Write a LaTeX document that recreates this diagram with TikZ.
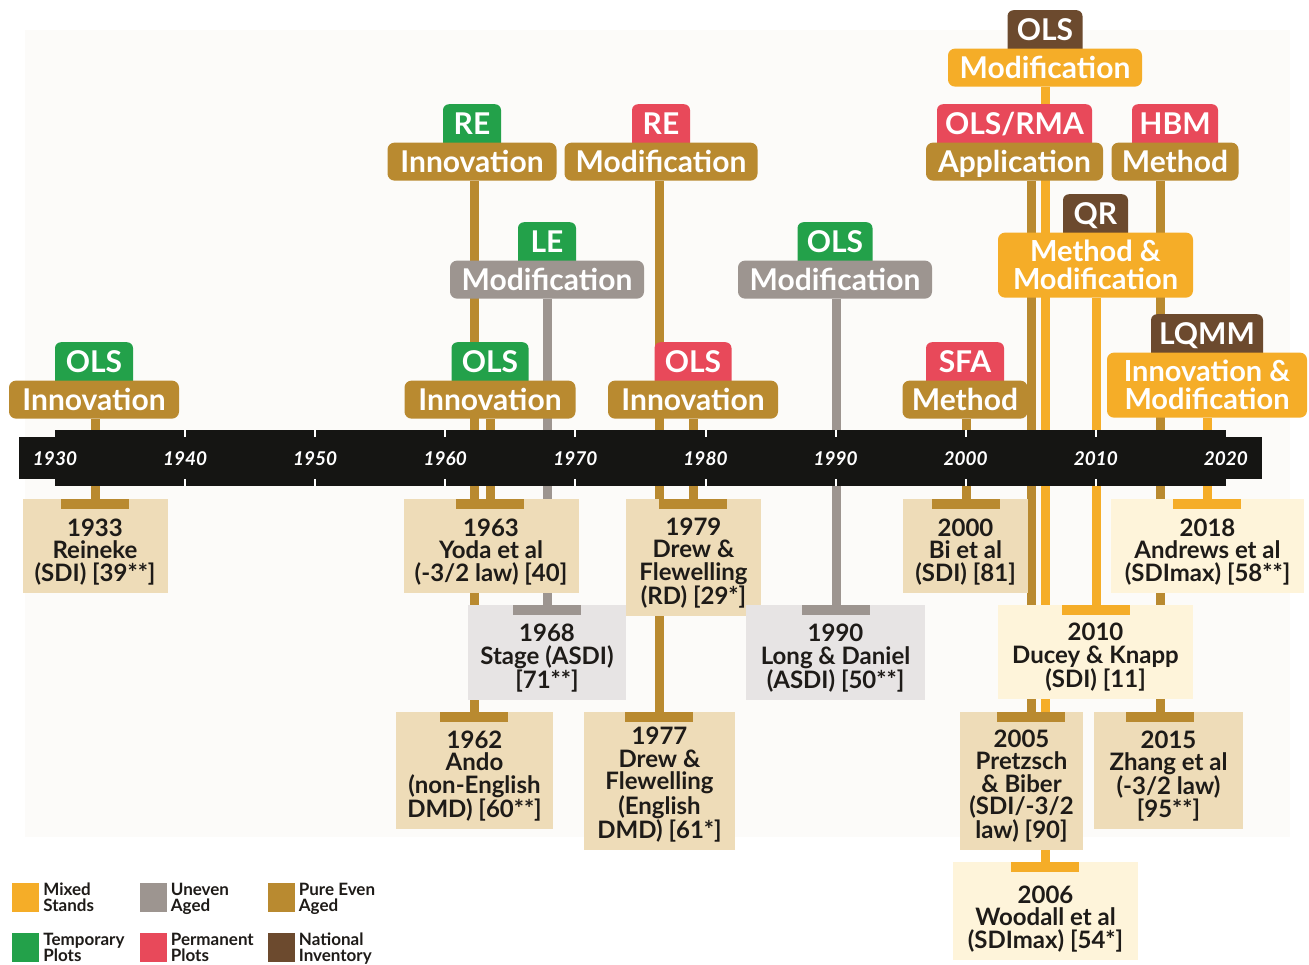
\documentclass[tikz,border=0pt]{standalone}
\usepackage{fontspec}
\setmainfont{Lato}
\usetikzlibrary{positioning, calc, backgrounds}
\pgfdeclarelayer{lines}
\pgfsetlayers{background,lines,main}
\definecolor{mixed}{HTML}{F5AD28}
\definecolor{pureeven}{HTML}{B98A30}
\definecolor{uneven}{HTML}{9D9590}
\definecolor{temporary}{HTML}{23A14A}
\definecolor{permanent}{HTML}{E8495A}
\definecolor{national}{HTML}{6C4A2E}
\definecolor{tanbox}{HTML}{EEDCB8}
\definecolor{greybox}{HTML}{E7E4E4}
\definecolor{creambox}{HTML}{FEF4DA}
\definecolor{ink}{HTML}{1E1B18}
\definecolor{barblack}{HTML}{151513}
\definecolor{panel}{HTML}{FCFBF9}

\begin{document}
\begin{tikzpicture}[x=1pt, y=-1pt,
    tag/.style={anchor=north, rounded corners=6pt, text=white, inner xsep=0pt, inner ysep=6pt, text height=24pt, text depth=10pt, font=\bfseries\fontsize{30}{26}\selectfont},
    method/.style={rounded corners=7pt, text=white, inner sep=0pt, minimum height=38pt, text height=22pt, text depth=0pt, font=\bfseries\fontsize{30}{26}\selectfont},
    twoline/.style={method, align=center, minimum height=65pt, text height=49pt, text depth=0pt, font=\bfseries\fontsize{29}{28}\selectfont},
    paper/.style={anchor=north, inner sep=0pt, text depth=12pt, align=center, text=ink, font=\bfseries\fontsize{24}{22.5}\selectfont},
    conn/.style={line width=9pt},
    decade/.style={text=white, font=\bfseries\itshape\fontsize{19}{19}\selectfont},
    swatch/.style={minimum width=27pt, minimum height=29pt, inner sep=0pt},
    legend/.style={align=left, inner sep=0pt, text height=28pt, text depth=0pt, text=ink, font=\bfseries\fontsize{17}{16}\selectfont}]

    % Page
    \begin{pgfonlayer}{background}
        \fill[white] (0,0) rectangle (1309,964);
        \fill[panel] (25,30) rectangle (1290,837);
    \end{pgfonlayer}

    % Timeline
    \fill[barblack] (19,437) rectangle (1262,479);
    \fill[barblack] (55,430) rectangle (1226,486);
    \foreach \i in {1,...,8}
        \draw[white, line width=2pt] ({55+130.1*\i},430) -- ++(0,7) ({55+130.1*\i},479) -- ++(0,7);
    \foreach \yr [count=\i from 0] in {1930,1940,...,2020}
        \node[decade] (d\yr) at ({55+130.1*\i},459) {\yr};

    % Methods above the timeline
    \node[tag, fill=temporary, minimum width=78pt] (ols33) at (94,342) {OLS};
    \node[method, fill=pureeven, minimum width=170pt, below=-8pt of ols33] (ols33inn) {Innovation};

    \node[tag, fill=temporary, minimum width=58pt] (re62) at (472,104) {RE};
    \node[method, fill=pureeven, minimum width=169pt, below=-8pt of re62] (reinn) {Innovation};

    \node[tag, fill=permanent, minimum width=58pt] (re77) at (661,104) {RE};
    \node[method, fill=pureeven, minimum width=193pt, below=-8pt of re77] (remod) {Modification};

    \node[tag, fill=temporary, minimum width=58pt] (le68) at (547,222) {LE};
    \node[method, fill=uneven, minimum width=194pt, below=-8pt of le68] (lemod) {Modification};

    \node[tag, fill=temporary, minimum width=77pt] (ols63) at (490,342) {OLS};
    \node[method, fill=pureeven, minimum width=171pt, below=-8pt of ols63] (ols63inn) {Innovation};

    \node[tag, fill=permanent, minimum width=77pt] (ols79) at (693,342) {OLS};
    \node[method, fill=pureeven, minimum width=170pt, below=-8pt of ols79] (ols79inn) {Innovation};

    \node[tag, fill=temporary, minimum width=75pt] (ols90) at (835,222) {OLS};
    \node[method, fill=uneven, minimum width=194pt, below=-8pt of ols90] (ols90mod) {Modification};

    \node[tag, fill=permanent, minimum width=78pt] (sfa00) at (965,342) {SFA};
    \node[method, fill=pureeven, minimum width=125pt, below=-8pt of sfa00] (sfameth) {Method};

    \node[tag, fill=national, minimum width=75pt] (ols06) at (1045,10) {OLS};
    \node[method, fill=mixed, minimum width=194pt, below=-8pt of ols06] (ols06mod) {Modification};

    \node[tag, fill=permanent, minimum width=155pt] (rma05) at (1014.5,104) {OLS/RMA};
    \node[method, fill=pureeven, minimum width=177pt, below=-8pt of rma05] (appl) {Application};

    \node[tag, fill=permanent, minimum width=86pt] (hbm15) at (1175,104) {HBM};
    \node[method, fill=pureeven, minimum width=127pt, below=-8pt of hbm15] (hbmmeth) {Method};

    \node[tag, fill=national, minimum width=65pt] (qr10) at (1095.5,194) {QR};
    \node[twoline, fill=mixed, minimum width=195pt, below=-8pt of qr10] (qrmeth) {Method \&\\Modification};

    \node[tag, fill=national, minimum width=112pt] (lqmm18) at (1207,314) {LQMM};
    \node[twoline, fill=mixed, minimum width=200pt, below=-8pt of lqmm18] (lqmminn) {Innovation \&\\Modification};

    % Papers below the timeline
    \node[paper, fill=tanbox, minimum width=145pt, text height=82pt] (p1933) at (95,499) {1933\\Reineke\\(SDI) [39**]};
    \node[paper, fill=tanbox, minimum width=175pt, text height=82pt] (p1963) at (491,499) {1963\\Yoda et al\\(-3/2 law) [40]};
    \node[paper, fill=greybox, minimum width=158pt, text height=83pt] (p1968) at (547,605) {1968\\Stage (ASDI)\\{[71**]}};
    \node[paper, fill=tanbox, minimum width=157pt, text height=105pt] (p1962) at (474.5,712) {1962\\Ando\\(non-English\\DMD) [60**]};
    \node[paper, fill=tanbox, minimum width=135pt, text height=105pt] (p1979) at (693.5,499) {1979\\Drew \&\\Flewelling\\(RD) [29*]};
    \node[paper, fill=tanbox, minimum width=151pt, text height=126pt] (p1977) at (659.5,712) {1977\\Drew \&\\Flewelling\\(English\\DMD) [61*]};
    \node[paper, fill=greybox, minimum width=179pt, text height=83pt] (p1990) at (835.5,605) {1990\\Long \& Daniel\\(ASDI) [50**]};
    \node[paper, fill=tanbox, minimum width=125pt, text height=82pt] (p2000) at (965.5,499) {2000\\Bi et al\\(SDI) [81]};
    \node[paper, fill=creambox, minimum width=193pt, text height=82pt] (p2018) at (1207.5,499) {2018\\Andrews et al\\(SDImax) [58**]};
    \node[paper, fill=creambox, minimum width=195pt, text height=82pt] (p2010) at (1095.5,605) {2010\\Ducey \& Knapp\\(SDI) [11]};
    \node[paper, fill=tanbox, minimum width=123pt, text height=126pt] (p2005) at (1021.5,712) {2005\\Pretzsch\\\& Biber\\(SDI/-3/2\\law) [90]};
    \node[paper, fill=tanbox, minimum width=149pt, text height=105pt] (p2015) at (1168.5,712) {2015\\Zhang et al\\(-3/2 law)\\{[95**]}};
    \node[paper, fill=creambox, minimum width=185pt, text height=86pt] (p2006) at (1045.5,862) {2006\\Woodall et al\\(SDImax) [54*]};

    % Connectors
    \foreach \from/\to/\x/\col in {ols33inn/p1933/95/pureeven, reinn/p1962/474/pureeven,
        ols63inn/p1963/490/pureeven, lemod/p1968/547/uneven, remod/p1977/659/pureeven,
        ols79inn/p1979/693/pureeven, ols90mod/p1990/836/uneven, sfameth/p2000/966/pureeven,
        appl/p2005/1031/pureeven, ols06mod/p2006/1045/mixed, qrmeth/p2010/1096/mixed,
        hbmmeth/p2015/1160/pureeven, lqmminn/p2018/1207/mixed}
    {
        \coordinate (x\to) at (\x,458);
        \begin{pgfonlayer}{lines}
            \draw[conn, \col] (\from.south -| x\to) -- (\to.north -| x\to);
        \end{pgfonlayer}
        \fill[\col] ($(\to.north -| x\to)+(-34,0)$) rectangle ++(68,10);
    }

    % Legend
    \node[swatch, fill=mixed] (kmixed) at (25.5,897.5) {};
    \node[legend, right=4pt of kmixed] (tmixed) {Mixed\\Stands};
    \node[swatch, fill=uneven] (kuneven) at (153,897.5) {};
    \node[legend, right=4pt of kuneven] (tuneven) {Uneven\\Aged};
    \node[swatch, fill=pureeven] (kpure) at (281,897.5) {};
    \node[legend, right=4pt of kpure] (tpure) {Pure Even\\Aged};
    \node[swatch, fill=temporary] (ktemp) at (25.5,947) {};
    \node[legend, right=4pt of ktemp] (ttemp) {Temporary\\Plots};
    \node[swatch, fill=permanent] (kperm) at (153,947) {};
    \node[legend, right=4pt of kperm] (tperm) {Permanent\\Plots};
    \node[swatch, fill=national] (knat) at (281,947) {};
    \node[legend, right=4pt of knat] (tnat) {National\\Inventory};
\end{tikzpicture}
\end{document}
